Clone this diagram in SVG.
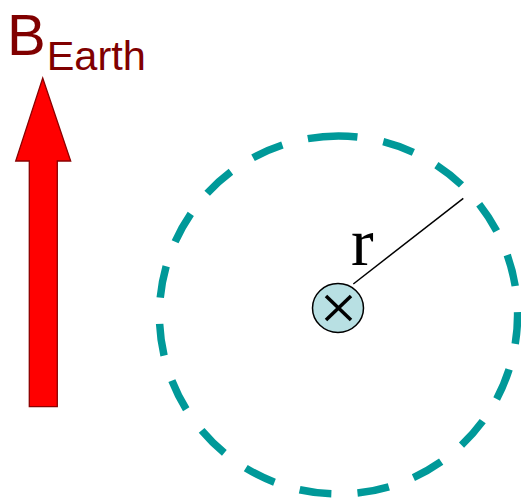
<svg xmlns="http://www.w3.org/2000/svg" width="521" height="501" viewBox="0 0 521 501">
<style>
.lbl{font-family:"Liberation Sans",Arial,sans-serif;fill:#800000}
.loop{fill:none;stroke:#009999;stroke-width:7.5;stroke-dasharray:32 26.25;stroke-dashoffset:13}
.wire{fill:#b8e0e3;stroke:#000;stroke-width:1.5}
.x{stroke:#000;stroke-width:3.5;stroke-linecap:butt}
</style>
<rect width="521" height="501" fill="#fff"/>
<g id="b-earth-label">
<text class="lbl" x="7" y="55" font-size="58">B<tspan font-size="41.5" dx="1" dy="15">Earth</tspan></text>
</g>
<g id="b-earth-arrow">
<polygon points="42.7,78 70.7,161 57.3,161 57.3,406.7 29.3,406.7 29.3,161 15.7,161" fill="#ff0000" stroke="#8b0000" stroke-width="1.3"/>
</g>
<g id="field-loop">
<path class="loop" d="M338.5,136 A179,179 0 1,1 338.5,494 A179,179 0 1,1 338.5,136"/>
</g>
<g id="connectors">
<line x1="353.3" y1="284" x2="463.3" y2="198.3" stroke="#000" stroke-width="1.5"/>
</g>
<g id="wire">
<ellipse class="wire" cx="338" cy="308" rx="25.5" ry="24.5"/>
<line class="x" x1="326" y1="296" x2="351" y2="320"/>
<line class="x" x1="351" y1="296" x2="326" y2="320"/>
</g>
<g id="r-label">
<text x="351" y="265" font-family="'Liberation Serif','Times New Roman',serif" font-size="68" fill="#000">r</text>
</g>
</svg>
